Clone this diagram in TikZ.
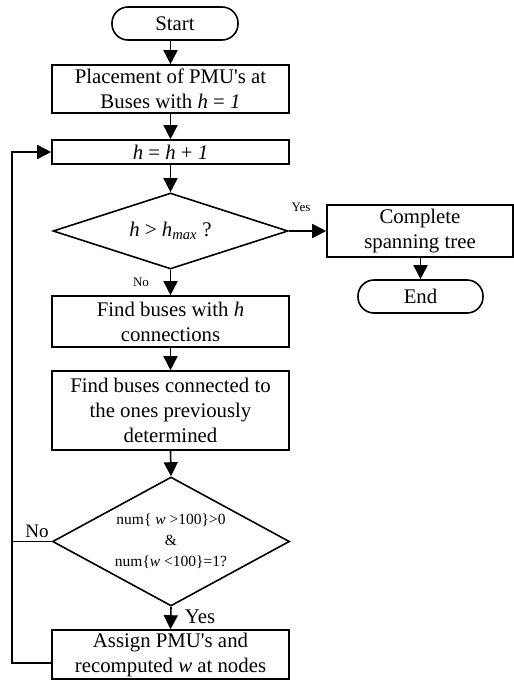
\documentclass[tikz,border=0pt]{standalone}
\usepackage{fontspec}
\setmainfont{Liberation Serif}
\usetikzlibrary{shapes.geometric,arrows.meta}
\begin{document}
\begin{tikzpicture}[x=1pt,y=-1pt,
  line width=1.6pt,
  bigf/.style={font=\fontsize{20.8}{25}\selectfont},
  smallf/.style={font=\fontsize{13}{18}\selectfont},
  decf/.style={font=\fontsize{15.5}{21}\selectfont},
  procbox/.style={draw, bigf, align=center, inner sep=0pt, minimum width=237pt},
  termbox/.style={draw, bigf, rounded corners=16pt, inner sep=0pt, minimum width=126pt, minimum height=33pt},
  decbox/.style={draw, diamond, align=center, inner sep=0pt},
  arr/.style={-{Triangle[length=14pt,width=14pt]}},
  lbl/.style={inner sep=0pt}]
\useasboundingbox (0,0) rectangle (514,680);

\node[termbox] (start) at (175,23.5) {Start};
\node[procbox, minimum height=48pt] (b1) at (170.5,89) {Placement of PMU\textquotesingle s at\\Buses with \textit{h} = \textit{1}};
\node[procbox, minimum height=24pt] (b2) at (170.5,152) {\textit{h} = \textit{h} + \textit{1}};
\node[decbox, bigf, minimum width=235pt, minimum height=76pt, aspect=3.09] (d1) at (170.5,231) {\textit{h} > \textit{h}\textsubscript{\textit{max}} ?};
\node[procbox, minimum width=186pt, minimum height=52pt] (b3) at (420,231) {Complete\\spanning tree};
\node[termbox, minimum width=125pt] (end) at (420.5,296.5) {End};
\node[procbox, minimum height=51pt] (b4) at (170.5,321.5) {Find buses with \textit{h}\\connections};
\node[procbox, minimum height=79pt] (b5) at (170.5,410.5) {Find buses connected to\\the ones previously\\determined};
\node[decbox, decf, minimum width=237pt, minimum height=129pt, aspect=1.84] (d2) at (171,541.5) {num\{ \textit{w} >100\}>0\\\&\\num\{\textit{w} <100\}=1?};
\node[procbox, minimum height=49pt] (b6) at (170.5,654.5) {Assign PMU\textquotesingle s and\\recomputed \textit{w} at nodes};

\coordinate (lp) at (12,663);

\draw[arr] (start.south -| b1.north) -- (b1.north);
\draw[arr] (b1) -- (b2);
\draw[arr] (b2.south) -- (d1.north);
\draw[arr] (d1.east) -- (b3.west);
\draw[arr] (b3.south -| end.north) -- (end.north);
\draw[arr] (d1.south) -- (b4.north);
\draw[arr] (b4) -- (b5);
\draw[arr] (b5.south) -- (d2.north);
\draw[arr] (d2.south) -- (b6.north);
\draw[arr] (b6.west |- lp) -- (lp) |- (b2.west);
\draw (d2.west) -- (d2.west -| lp);

\node[lbl, smallf] (yes1) at (301,207) {Yes};
\node[lbl, smallf] (no1) at (141,282) {No};
\node[lbl, bigf] (yes2) at (200,617) {Yes};
\node[lbl, font=\fontsize{19}{22}\selectfont] (no2) at (37,531) {No};
\end{tikzpicture}
\end{document}
